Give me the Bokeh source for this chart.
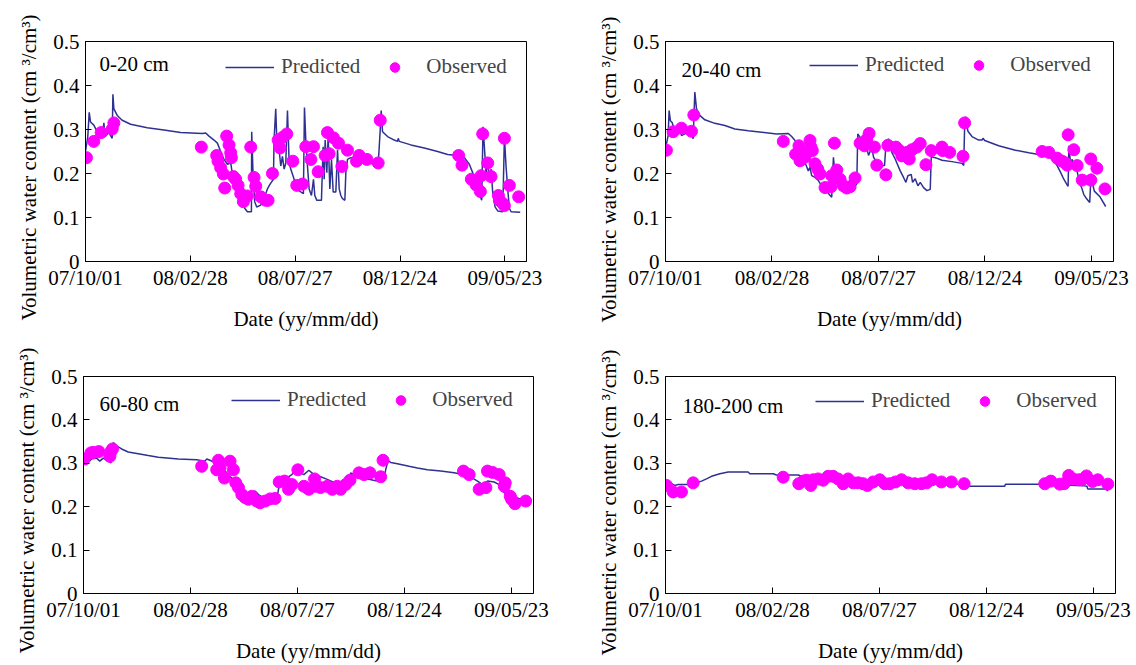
from bokeh.plotting import figure
from bokeh.layouts import column, row
from bokeh.models import (FixedTicker, CustomJSTickFormatter, Legend, LegendItem,
                          Label, Range1d, Title)
from bokeh.embed import file_html
from bokeh.resources import INLINE

FONT = "Liberation Serif"
LINE_COLOR = "#2E3192"
OBS_COLOR = "#FF00FF"

# x axis: days since 2007-10-01
date_ticks = [0, 150, 300, 450, 600]
date_labels = ["07/10/01", "08/02/28", "08/07/27", "08/12/24", "09/05/23"]
y_ticks = [0, 0.1, 0.2, 0.3, 0.4, 0.5]

# ---------------- 0-20 cm ----------------
pred_0_20_day = [0, 3.3, 5.3, 7.2, 11.9, 16.7, 21.5, 24.4, 26.3, 28.2, 33.4, 38.2, 39.2, 40.6, 45.4, 52.5,
                 64.5, 88.4, 112.2, 136.1, 167.2, 172, 176.7, 183.9, 188.7, 193.4, 198.2, 203, 207.8, 210.1,
                 214.9, 219.7, 224.5, 227.8, 231.6, 237.4, 237.8, 239.8, 242.1, 245, 250.7, 255.5, 260.3,
                 264.1, 268.9, 269.8, 272.2, 273.7, 277, 279.4, 281.8, 284.2, 286.6, 289, 291.4, 293.7,
                 298.5, 302.3, 308, 311.8, 313.3, 315.2, 317.6, 320, 323.3, 326.2, 328.1, 331, 337.6, 340,
                 341.5, 342.9, 345.3, 347.2, 349.6, 352, 354.4, 358.2, 360.6, 363, 365.3, 367.7, 371.1,
                 372.5, 374.9, 379.7, 389.2, 403.5, 418.8, 421.7, 423.1, 425, 432.2, 441.8, 446.5, 447.5,
                 448.9, 465.6, 484.7, 503.8, 518.2, 532.5, 542.1, 549.2, 554, 558.8, 563.5, 566.9, 568.8,
                 570.7, 573.1, 575.5, 577.9, 580.3, 582.6, 586, 589.8, 597, 599.4, 601.7, 604.1, 606.5,
                 608.9, 622]
pred_0_20_val = [0.25, 0.284, 0.339, 0.317, 0.31, 0.295, 0.284, 0.291, 0.315, 0.284, 0.293, 0.28, 0.38, 0.347,
                 0.332, 0.321, 0.312, 0.304, 0.299, 0.293, 0.291, 0.292, 0.285, 0.276, 0.269, 0.25, 0.232,
                 0.221, 0.224, 0.199, 0.18, 0.165, 0.147, 0.121, 0.113, 0.113, 0.295, 0.195, 0.136, 0.124,
                 0.128, 0.143, 0.165, 0.176, 0.187, 0.276, 0.347, 0.276, 0.254, 0.217, 0.239, 0.21, 0.224,
                 0.343, 0.224, 0.21, 0.187, 0.165, 0.158, 0.154, 0.35, 0.276, 0.217, 0.165, 0.15, 0.187,
                 0.15, 0.139, 0.139, 0.261, 0.187, 0.276, 0.202, 0.284, 0.165, 0.232, 0.158, 0.158, 0.254,
                 0.165, 0.15, 0.143, 0.139, 0.202, 0.232, 0.236, 0.236, 0.224, 0.221, 0.299, 0.343, 0.295,
                 0.284, 0.276, 0.273, 0.28, 0.273, 0.265, 0.258, 0.25, 0.243, 0.241, 0.236, 0.221, 0.202,
                 0.176, 0.154, 0.139, 0.306, 0.261, 0.202, 0.224, 0.187, 0.21, 0.158, 0.124, 0.115, 0.113,
                 0.284, 0.217, 0.165, 0.121, 0.113, 0.112]
obs_0_20_day = [1.4, 11.9, 22.4, 38.2, 40.6, 165.7, 187.7, 189.6, 193.4, 197.2, 199.2, 202, 205.4, 207.8,
                208.7, 211.6, 214.9, 218.3, 222.1, 225.9, 231.6, 236.4, 241.2, 243.6, 250.7, 257.9, 261.2,
                267.5, 275.6, 278.4, 281.8, 288, 296.6, 302.3, 310.4, 315.2, 322.4, 326.2, 332.9, 342.9,
                346.2, 348.6, 354.8, 362, 366.8, 374.9, 387.8, 391.6, 402.6, 418.8, 421.7, 533.9, 538.7,
                552.1, 558.8, 565, 566, 568.3, 575.5, 580.3, 590.8, 592.2, 597, 599.4, 599.4, 606.5, 619.8]
obs_0_20_val = [0.236, 0.273, 0.293, 0.301, 0.315, 0.26, 0.241, 0.228, 0.213, 0.199, 0.167, 0.285, 0.265,
                0.247, 0.236, 0.193, 0.187, 0.173, 0.154, 0.136, 0.149, 0.26, 0.191, 0.171, 0.147, 0.139,
                0.139, 0.2, 0.276, 0.258, 0.282, 0.29, 0.228, 0.173, 0.176, 0.261, 0.232, 0.261, 0.204,
                0.241, 0.293, 0.245, 0.281, 0.269, 0.216, 0.253, 0.228, 0.241, 0.232, 0.224, 0.321, 0.241,
                0.219, 0.187, 0.174, 0.159, 0.195, 0.29, 0.224, 0.193, 0.15, 0.139, 0.132, 0.127, 0.28,
                0.173, 0.147]

# ---------------- 20-40 cm ----------------
pred_20_40_day = [0, 3.7, 5.1, 6.9, 9.3, 13.1, 17.8, 20.1, 22.5, 27.2, 34.2, 39, 41.3, 43.7, 48.3, 55.4, 69.5,
                  83.7, 97.7, 116.6, 135.4, 156.5, 173, 177.7, 182.4, 187.1, 191.8, 196.5, 201.2, 203.5,
                  205.9, 210.6, 215.3, 220, 224.7, 230.4, 234.1, 236.5, 238.8, 243.5, 250.6, 257.6, 264.7,
                  269.4, 270.8, 274.1, 277.4, 280.2, 283.5, 285.9, 290.6, 293, 297.7, 302.4, 308.5, 310.4,
                  314.1, 318.8, 323.5, 330.6, 335.3, 338.6, 341.4, 346.1, 348, 351.7, 355.5, 358.8, 363.5,
                  368.2, 372.9, 374.3, 380, 389.4, 403.5, 417.6, 420, 421.3, 422.8, 426, 431.7, 441.1, 445.8,
                  447.2, 449.6, 469.3, 492.8, 511.6, 525.8, 539.9, 546.9, 551.6, 556.3, 561, 565.7, 567.1,
                  568.1, 570.4, 572.8, 575.1, 579.8, 583.1, 586.9, 589.2, 592, 597.5, 599.5, 601, 604, 612, 620]
pred_20_40_val = [0.256, 0.286, 0.343, 0.32, 0.316, 0.297, 0.29, 0.305, 0.286, 0.29, 0.294, 0.279, 0.385, 0.347,
                  0.332, 0.322, 0.314, 0.309, 0.301, 0.297, 0.294, 0.29, 0.291, 0.284, 0.275, 0.267, 0.248,
                  0.225, 0.206, 0.214, 0.195, 0.191, 0.184, 0.172, 0.165, 0.153, 0.146, 0.237, 0.199, 0.184,
                  0.176, 0.168, 0.168, 0.176, 0.29, 0.282, 0.267, 0.252, 0.26, 0.241, 0.259, 0.237, 0.225,
                  0.218, 0.218, 0.263, 0.279, 0.248, 0.233, 0.206, 0.191, 0.18, 0.195, 0.198, 0.18, 0.188,
                  0.172, 0.18, 0.168, 0.161, 0.164, 0.238, 0.236, 0.23, 0.227, 0.223, 0.218, 0.305, 0.329,
                  0.296, 0.284, 0.276, 0.276, 0.28, 0.275, 0.263, 0.253, 0.247, 0.243, 0.238, 0.229, 0.218,
                  0.203, 0.187, 0.174, 0.171, 0.263, 0.225, 0.232, 0.214, 0.205, 0.18, 0.164, 0.152, 0.145,
                  0.134, 0.2, 0.18, 0.16, 0.147, 0.125]
obs_20_40_day = [1.3, 10.7, 22.5, 36.6, 39.9, 165.9, 183.3, 188, 189.4, 192.7, 196.5, 203.5, 204.9, 206.8,
                 210.6, 214.4, 217.7, 224.7, 233.2, 234.1, 237.9, 241.2, 245.9, 250.6, 255.3, 260, 267,
                 274.1, 280.2, 283.5, 286.8, 294.3, 297.6, 310.4, 313.2, 324.5, 328.2, 332.9, 340, 343.3,
                 347, 354.1, 358.8, 366.8, 374.3, 389.4, 390.3, 400.2, 419, 421.3, 530.5, 539.9, 551.6,
                 558.7, 563.4, 565.7, 567.1, 575.1, 579.8, 586.9, 599, 599, 607.6, 619]
obs_20_40_val = [0.253, 0.295, 0.303, 0.296, 0.333, 0.273, 0.244, 0.263, 0.229, 0.248, 0.237, 0.275, 0.26,
                 0.252, 0.222, 0.21, 0.199, 0.168, 0.17, 0.195, 0.269, 0.208, 0.187, 0.172, 0.167, 0.17, 0.19,
                 0.269, 0.263, 0.278, 0.291, 0.26, 0.219, 0.197, 0.264, 0.26, 0.254, 0.24, 0.248, 0.233,
                 0.254, 0.26, 0.268, 0.22, 0.252, 0.26, 0.252, 0.248, 0.239, 0.315, 0.25, 0.248, 0.235,
                 0.228, 0.224, 0.219, 0.288, 0.254, 0.218, 0.185, 0.185, 0.233, 0.212, 0.165]

# ---------------- 60-80 cm ----------------
pred_60_80_day = [0, 4.2, 11.2, 18.3, 22.9, 27.6, 32.3, 38.4, 41.7, 46.4, 53.4, 62.7, 76.8, 90.8, 104.9, 133,
                  158.7, 170.4, 172.8, 177.4, 184.5, 191.5, 198.5, 205.5, 212.6, 219.6, 226.6, 233.6, 240.7,
                  245.3, 250, 259.4, 271.1, 273.4, 275.8, 282.8, 292.2, 297, 309, 316, 323.1, 332.4, 341.8,
                  351.2, 360.5, 367.6, 372.2, 374.6, 379.3, 388.6, 400.3, 409.7, 420.5, 423.7, 427, 430.8,
                  440.1, 456.5, 468.2, 482.3, 501, 519.7, 531.4, 538.4, 545.5, 552.5, 559.5, 566.5, 575.9,
                  582.9, 587.6, 593.7, 599.3, 606.3, 610.5, 622]
pred_60_80_val = [0.301, 0.297, 0.31, 0.312, 0.305, 0.312, 0.308, 0.301, 0.348, 0.34, 0.333, 0.326, 0.322, 0.318,
                  0.314, 0.31, 0.308, 0.305, 0.31, 0.307, 0.301, 0.293, 0.282, 0.27, 0.255, 0.244, 0.232,
                  0.226, 0.236, 0.228, 0.223, 0.221, 0.218, 0.24, 0.259, 0.264, 0.274, 0.285, 0.274, 0.284,
                  0.274, 0.269, 0.263, 0.256, 0.253, 0.251, 0.255, 0.278, 0.274, 0.266, 0.263, 0.26, 0.259,
                  0.285, 0.306, 0.302, 0.299, 0.293, 0.289, 0.285, 0.282, 0.278, 0.274, 0.27, 0.266, 0.259,
                  0.251, 0.259, 0.257, 0.251, 0.236, 0.228, 0.228, 0.221, 0.219, 0.217]
obs_60_80_day = [0.9, 10.3, 13.6, 21.5, 37, 38.4, 40.7, 165.7, 186.8, 189.2, 191.5, 197.6, 205.5, 210.2, 213.5,
                 217.3, 222, 226.6, 231.3, 236, 243, 247.7, 254.7, 261.7, 268.7, 274.4, 281.9, 287.5, 292.2,
                 300.6, 309, 316, 324, 325.4, 332.4, 341.8, 348.8, 355.8, 360.5, 367.6, 373.6, 386.3, 393.3,
                 401.7, 416.7, 420, 532.8, 540.8, 554.8, 564.2, 566.5, 573.6, 582.9, 590, 591.4, 598.4,
                 600.3, 605, 620]
obs_60_80_val = [0.31, 0.324, 0.325, 0.327, 0.316, 0.327, 0.333, 0.293, 0.285, 0.307, 0.289, 0.266, 0.305,
                 0.285, 0.255, 0.244, 0.228, 0.221, 0.217, 0.224, 0.213, 0.209, 0.213, 0.218, 0.219, 0.257,
                 0.259, 0.24, 0.251, 0.285, 0.247, 0.24, 0.264, 0.247, 0.244, 0.247, 0.24, 0.247, 0.24,
                 0.251, 0.261, 0.278, 0.274, 0.278, 0.269, 0.307, 0.282, 0.274, 0.24, 0.244, 0.282, 0.279,
                 0.274, 0.247, 0.255, 0.224, 0.217, 0.207, 0.213]

# ---------------- 180-200 cm ----------------
pred_180_200_day = [0, 8.4, 13.1, 17.8, 36.4, 50.5, 57.5, 64.5, 76.2, 87.9, 115.9, 118.2, 150.9, 155.6, 186,
                    190.7, 230, 260, 300, 350, 420, 426.6, 475.7, 476.6, 527.1, 586.9, 591, 592, 618, 620]
pred_180_200_val = [0.253, 0.253, 0.249, 0.251, 0.251, 0.259, 0.264, 0.27, 0.276, 0.28, 0.28, 0.276, 0.276,
                    0.273, 0.273, 0.27, 0.268, 0.262, 0.257, 0.254, 0.252, 0.247, 0.247, 0.252, 0.252, 0.248,
                    0.247, 0.241, 0.241, 0.236]
obs_180_200_day = [1.4, 10.7, 22.4, 38.8, 165, 186.9, 193, 197.7, 203.7, 207, 214, 221, 228, 235, 242, 249,
                   256.1, 263.1, 270.1, 277.1, 283, 291.1, 300.5, 307.5, 314.5, 322.4, 330.9, 340.2, 349.5,
                   358.9, 366.1, 373.8, 386.9, 400.9, 418.7, 531.8, 540.2, 552.8, 558.9, 565.4, 571.5, 579.5,
                   583.9, 590.3, 598.8, 606.2, 620.2]
obs_180_200_val = [0.249, 0.234, 0.234, 0.255, 0.268, 0.253, 0.259, 0.261, 0.249, 0.262, 0.264, 0.261, 0.27,
                   0.27, 0.264, 0.253, 0.264, 0.255, 0.255, 0.253, 0.249, 0.257, 0.262, 0.253, 0.253, 0.257,
                   0.262, 0.255, 0.253, 0.253, 0.255, 0.262, 0.257, 0.257, 0.253, 0.253, 0.259, 0.252, 0.253,
                   0.272, 0.264, 0.262, 0.262, 0.271, 0.258, 0.262, 0.252]

Y_LABEL = "Volumetric water content (cm \u00b3/cm\u00b3)"


def style_axis(ax):
    ax.axis_line_color = "black"
    ax.axis_line_width = 1
    ax.major_tick_in = 6
    ax.major_tick_out = 0
    ax.major_tick_line_color = "black"
    ax.minor_tick_in = 0
    ax.minor_tick_out = 0
    ax.major_label_text_font = FONT
    ax.major_label_text_font_size = "21px"
    ax.major_label_text_color = "black"
    ax.axis_label_text_font = FONT
    ax.axis_label_text_font_size = "21px"
    ax.axis_label_text_font_style = "normal"
    ax.axis_label_text_color = "black"


def make_panel(depth, pdays, pvals, odays, ovals, width, height, ml, mr, mt, mb, leg_xy, lab_xy, ylab_off):
    p = figure(width=width, height=height, output_backend="svg", toolbar_location=None,
               x_range=Range1d(0, 631), y_range=Range1d(0, 0.5),
               min_border_left=ml, min_border_right=mr, min_border_top=mt, min_border_bottom=mb)
    p.grid.visible = False
    p.outline_line_color = "black"
    p.outline_line_width = 1
    p.outline_line_alpha = 1

    xa = p.xaxis[0]
    style_axis(xa)
    xa.ticker = FixedTicker(ticks=date_ticks)
    xa.major_label_overrides = dict(zip(date_ticks, date_labels))
    xa.axis_label = "Date (yy/mm/dd)"
    xa.major_label_standoff = 4
    xa.axis_label_standoff = 14

    ya = p.yaxis[0]
    style_axis(ya)
    ya.ticker = FixedTicker(ticks=y_ticks)
    ya.formatter = CustomJSTickFormatter(code="return tick == 0 ? '0' : tick.toFixed(1);")
    ya.major_label_standoff = 6

    # y-axis title as a side title so that it can sit lower than the frame centre, as in the original
    p.add_layout(Title(text=Y_LABEL, align="left", offset=ylab_off, vertical_align="bottom",
                       standoff=20, text_font=FONT, text_font_size="21px",
                       text_font_style="normal", text_color="black"), "left")

    r_line = p.line(pdays, pvals, line_color=LINE_COLOR, line_width=1.5)
    r_obs = p.scatter(odays, ovals, marker="circle", size=12,
                      fill_color=OBS_COLOR, line_color=OBS_COLOR)

    legend = Legend(items=[LegendItem(label="Predicted", renderers=[r_line]),
                           LegendItem(label="Observed", renderers=[r_obs])],
                    orientation="horizontal", location=leg_xy,
                    padding=0, margin=0, spacing=10, label_standoff=7,
                    glyph_width=49, glyph_height=24, label_height=24,
                    label_text_font=FONT, label_text_font_size="21px",
                    border_line_color=None, background_fill_alpha=0)
    p.add_layout(legend)

    p.add_layout(Label(x=lab_xy[0], y=lab_xy[1], x_units="screen", y_units="screen",
                       text=depth, text_font=FONT, text_font_size="21px",
                       text_baseline="middle", text_color="black"))
    return p


p1 = make_panel("0-20 cm", pred_0_20_day, pred_0_20_val, obs_0_20_day, obs_0_20_val,
                580, 340, 85, 54, 40, 77, (140, 182), (14, 198), -59)
p2 = make_panel("20-40 cm", pred_20_40_day, pred_20_40_val, obs_20_40_day, obs_20_40_val,
                556, 340, 85, 23, 41, 79, (144, 184), (16, 192), -61)
p3 = make_panel("60-80 cm", pred_60_80_day, pred_60_80_val, obs_60_80_day, obs_60_80_val,
                580, 325, 83, 47, 36, 70, (148, 181), (16, 190), -60)
p4 = make_panel("180-200 cm", pred_180_200_day, pred_180_200_val, obs_180_200_day, obs_180_200_val,
                556, 325, 85, 21, 36, 72, (150, 180), (17, 188), -62)

layout = column(row(p1, p2, spacing=0), row(p3, p4, spacing=0), spacing=0)

with open("out.html", "w") as f:
    f.write(file_html(layout, INLINE))
